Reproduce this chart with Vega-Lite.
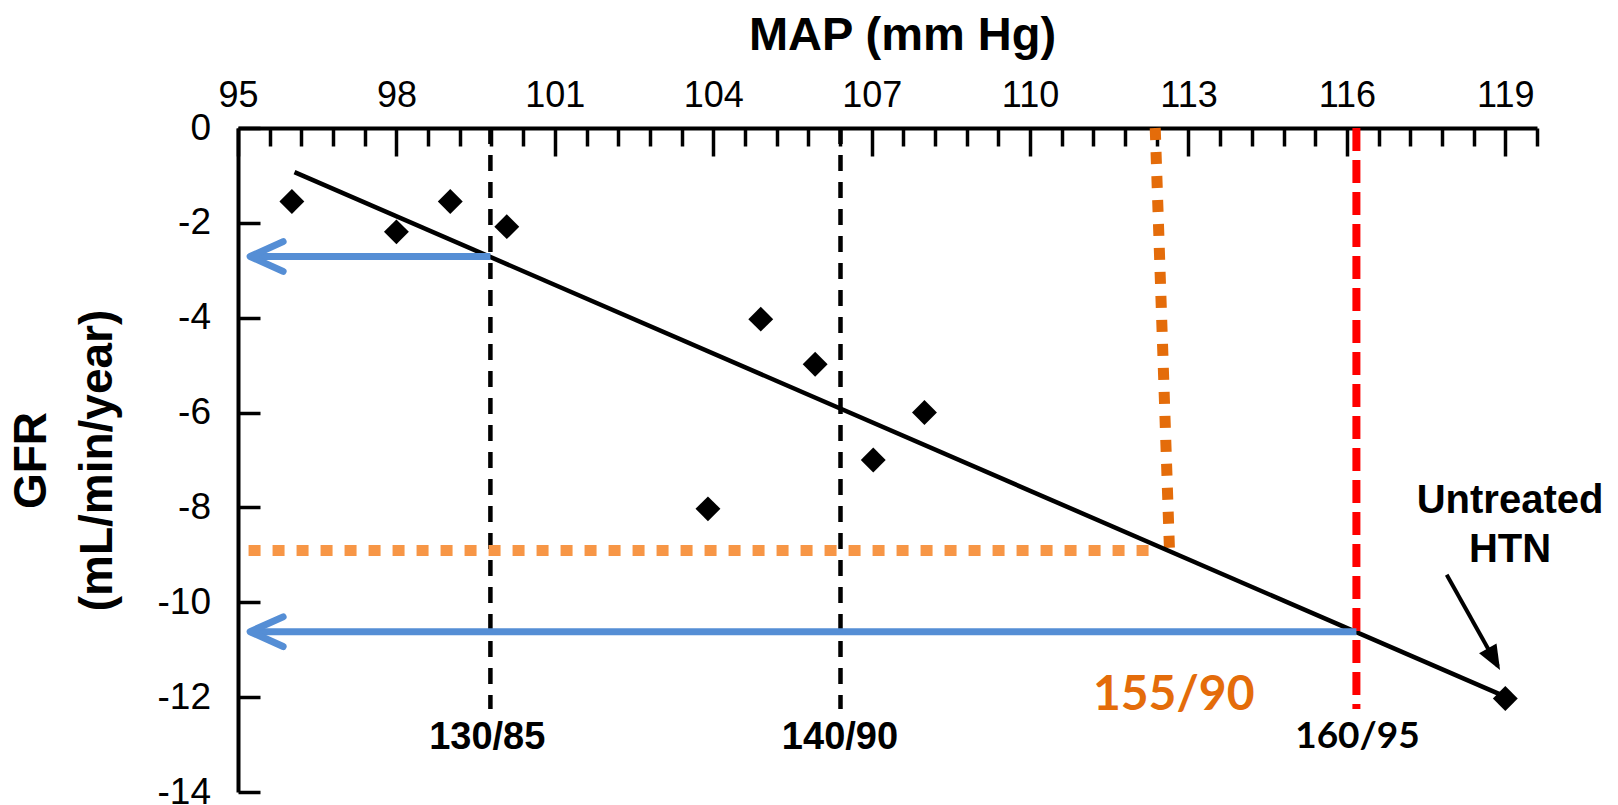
{
  "$schema": "https://vega.github.io/schema/vega-lite/v6.json",
  "width": 1299,
  "height": 664,
  "autosize": "none",
  "padding": {"left": 238, "top": 128, "right": 81, "bottom": 13},
  "background": "white",
  "config": {"view": {"stroke": null}, "font": "Liberation Sans"},
  "datasets": {
    "points": [
      {"x": 96.02, "y": -1.55},
      {"x": 98.0, "y": -2.19},
      {"x": 99.02, "y": -1.55},
      {"x": 100.09, "y": -2.08},
      {"x": 103.9, "y": -8.03},
      {"x": 104.9, "y": -4.03},
      {"x": 105.93, "y": -4.98},
      {"x": 107.03, "y": -7.0},
      {"x": 108.0, "y": -6.0},
      {"x": 119.0, "y": -12.03}
    ],
    "reg": [{"x": 96.07, "y": -0.93, "x2": 119.0, "y2": -11.99}],
    "vdash": [{"x": 99.78, "y": 0, "y2": -12.25}, {"x": 106.41, "y": 0, "y2": -12.25}],
    "red": [{"x": 116.18, "y": 0, "y2": -12.25}],
    "orangeH": [{"x": 95.2, "x2": 112.37, "y": -8.91}],
    "orangeV": [{"x": 112.37, "y": 0, "x2": 112.64, "y2": -8.9}],
    "blue": [{"x": 99.78, "x2": 95.23, "y": -2.71}, {"x": 116.18, "x2": 95.23, "y": -10.62}],
    "blueHead": [{"x": 95.23, "y": -2.71}, {"x": 95.23, "y": -10.62}],
    "htnArrow": [{"x": 117.89, "y": -9.42, "x2": 118.86, "y2": -11.35}],
    "htnHead": [{"x": 118.9, "y": -11.43}],
    "bpLabels": [{"x": 99.72, "y": -12.87, "text": "130/85"}, {"x": 106.4, "y": -12.86, "text": "140/90"}],
    "label155": [{"x": 112.72, "y": -11.98, "text": "155/90"}],
    "label160": [{"x": 116.2, "y": -12.83, "text": "160/95"}],
    "htnText": [{"x": 119.09, "y": -8.12, "text": "Untreated\nHTN"}]
  },
  "encoding": {
    "x": {"field": "x", "type": "quantitative", "scale": {"domain": [95, 119.6], "nice": false, "zero": false},
      "axis": {
        "orient": "top",
        "values": [95, 95.6, 96.2, 96.8, 97.4, 98, 98.6, 99.2, 99.8, 100.4, 101, 101.6, 102.2, 102.8, 103.4, 104, 104.6, 105.2, 105.8, 106.4, 107, 107.6, 108.2, 108.8, 109.4, 110, 110.6, 111.2, 111.8, 112.4, 113, 113.6, 114.2, 114.8, 115.4, 116, 116.6, 117.2, 117.8, 118.4, 119, 119.6],
        "title": "MAP (mm Hg)",
        "titleFont": "Liberation Sans", "titleFontSize": 47, "titleFontWeight": "bold", "titleColor": "black",
        "titleX": 664, "titleY": -78.5, "titleBaseline": "alphabetic", "titleAlign": "center",
        "labelExpr": "indexof([95,98,101,104,107,110,113,116,119], datum.value) >= 0 ? toString(datum.value) : ''",
        "labelFont": "Liberation Sans", "labelFontSize": 36, "labelColor": "black", "labelBaseline": "alphabetic",
        "labelPadding": 49.6, "labelFlush": false, "labelOverlap": false, "labelBound": false,
        "tickSize": {"condition": {"test": "indexof([95,98,101,104,107,110,113,116,119], datum.value) >= 0", "value": -28}, "value": -18},
        "tickWidth": 3.5, "tickColor": "black", "domainColor": "black", "domainWidth": 4, "grid": false
      }
    },
    "y": {"field": "y", "type": "quantitative", "scale": {"domain": [-14, 0], "nice": false, "zero": false},
      "axis": {
        "orient": "left",
        "values": [0, -2, -4, -6, -8, -10, -12, -14],
        "title": ["GFR", "(mL/min/year)"],
        "titleFont": "Liberation Sans", "titleFontSize": 46, "titleFontWeight": "bold", "titleColor": "black",
        "titleLineHeight": 66, "titleBaseline": "alphabetic", "titleX": -192.6, "titleAlign": "center",
        "labelExpr": "toString(datum.value)",
        "labelFont": "Liberation Sans", "labelFontSize": 37, "labelColor": "black",
        "labelPadding": 49.5, "labelFlush": false, "labelOverlap": false,
        "tickSize": -22, "tickWidth": 3.5, "tickColor": "black", "domainColor": "black", "domainWidth": 4, "grid": false
      }
    }
  },
  "layer": [
    {
      "data": {"name": "vdash"},
      "mark": {"type": "rule", "color": "black", "strokeWidth": 4.5, "strokeDash": [16, 11]},
      "encoding": {"y2": {"field": "y2"}}
    },
    {
      "data": {"name": "orangeH"},
      "mark": {"type": "rule", "color": "#F79646", "strokeWidth": 11, "strokeDash": [12, 12]},
      "encoding": {"x2": {"field": "x2"}}
    },
    {
      "data": {"name": "orangeV"},
      "mark": {"type": "rule", "color": "#E46C0A", "strokeWidth": 11, "strokeDash": [12, 12]},
      "encoding": {"x2": {"field": "x2"}, "y2": {"field": "y2"}}
    },
    {
      "data": {"name": "reg"},
      "mark": {"type": "rule", "color": "black", "strokeWidth": 4.5},
      "encoding": {"x2": {"field": "x2"}, "y2": {"field": "y2"}}
    },
    {
      "data": {"name": "red"},
      "mark": {"type": "rule", "color": "#FF0000", "strokeWidth": 8, "strokeDash": [23, 9]},
      "encoding": {"y2": {"field": "y2"}}
    },
    {
      "data": {"name": "blue"},
      "mark": {"type": "rule", "color": "#558ED5", "strokeWidth": 7},
      "encoding": {"x2": {"field": "x2"}}
    },
    {
      "data": {"name": "blueHead"},
      "mark": {"type": "point", "shape": "M 2 -0.9 L 0 0 L 2 0.9", "size": 1089, "filled": false, "color": "#558ED5", "strokeWidth": 7, "strokeCap": "round", "strokeJoin": "round", "opacity": 1},
      "encoding": {}
    },
    {
      "data": {"name": "points"},
      "mark": {"type": "point", "shape": "diamond", "size": 620, "filled": true, "color": "black", "opacity": 1},
      "encoding": {}
    },
    {
      "data": {"name": "htnArrow"},
      "mark": {"type": "rule", "color": "black", "strokeWidth": 4},
      "encoding": {"x2": {"field": "x2"}, "y2": {"field": "y2"}}
    },
    {
      "data": {"name": "htnHead"},
      "mark": {"type": "point", "shape": "M 0 0 L -0.8 -2 L 0.8 -2 Z", "size": 625, "filled": true, "color": "black", "angle": 330.7, "opacity": 1},
      "encoding": {}
    },
    {
      "data": {"name": "bpLabels"},
      "mark": {"type": "text", "font": "Liberation Sans", "fontWeight": "bold", "fontSize": 38, "color": "black", "align": "center", "baseline": "middle"},
      "encoding": {"text": {"field": "text"}}
    },
    {
      "data": {"name": "label155"},
      "mark": {"type": "text", "font": "Lato", "fontWeight": "bold", "fontSize": 48, "color": "#E46C0A", "align": "center", "baseline": "middle"},
      "encoding": {"text": {"field": "text"}}
    },
    {
      "data": {"name": "label160"},
      "mark": {"type": "text", "font": "Lato", "fontWeight": "bold", "fontSize": 37, "color": "black", "align": "center", "baseline": "middle"},
      "encoding": {"text": {"field": "text"}}
    },
    {
      "data": {"name": "htnText"},
      "mark": {"type": "text", "font": "Liberation Sans", "fontWeight": "bold", "fontSize": 40, "color": "black", "align": "center", "baseline": "alphabetic", "lineBreak": "\n", "lineHeight": 48.4},
      "encoding": {"text": {"field": "text"}}
    }
  ]
}
